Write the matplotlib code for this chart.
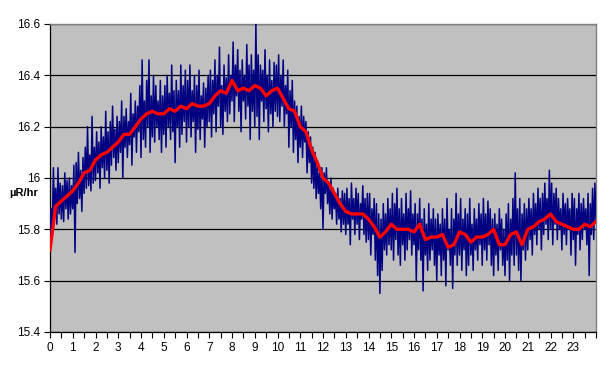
import numpy as np
import matplotlib
matplotlib.use('Agg')
import matplotlib.pyplot as plt

plt.rcParams['font.family'] = ['Liberation Sans', 'DejaVu Sans']

# blue readings, one every 0.05 h (20 per hour), last value at 24 h
raw = [
    # hour 0
    15.74, 15.88, 15.80, 16.04, 15.85, 15.96, 15.82, 16.04, 15.86, 15.98, 15.84, 15.97, 15.83, 16.02, 15.88, 15.99, 15.84, 16.00, 15.86, 15.97,
    # hour 1
    15.88, 16.05, 15.71, 16.06, 15.90, 16.10, 15.92, 16.03, 15.87, 16.08, 15.94, 16.12, 15.96, 16.20, 15.97, 16.09, 15.95, 16.24, 15.98, 16.12,
    # hour 2
    15.99, 16.18, 16.02, 16.14, 15.96, 16.20, 16.04, 16.16, 16.00, 16.26, 16.03, 16.18, 15.98, 16.22, 16.05, 16.28, 16.08, 16.19, 16.03, 16.24,
    # hour 3
    16.06, 16.22, 16.10, 16.30, 16.00, 16.24, 16.12, 16.27, 16.08, 16.22, 16.13, 16.33, 16.05, 16.25, 16.16, 16.30, 16.10, 16.28, 16.18, 16.36,
    # hour 4
    16.08, 16.46, 16.15, 16.30, 16.12, 16.38, 16.20, 16.46, 16.10, 16.32, 16.16, 16.40, 16.14, 16.36, 16.20, 16.30, 16.15, 16.38, 16.10, 16.32,
    # hour 5
    16.17, 16.36, 16.12, 16.40, 16.20, 16.33, 16.15, 16.44, 16.18, 16.34, 16.06, 16.38, 16.20, 16.34, 16.12, 16.44, 16.17, 16.36, 16.22, 16.42,
    # hour 6
    16.14, 16.38, 16.20, 16.44, 16.16, 16.34, 16.22, 16.40, 16.10, 16.36, 16.19, 16.42, 16.15, 16.32, 16.23, 16.37, 16.12, 16.35, 16.20, 16.40,
    # hour 7
    16.22, 16.42, 16.16, 16.38, 16.25, 16.46, 16.18, 16.40, 16.28, 16.51, 16.20, 16.36, 16.17, 16.44, 16.26, 16.39, 16.22, 16.48, 16.25, 16.40,
    # hour 8
    16.30, 16.53, 16.22, 16.44, 16.32, 16.50, 16.26, 16.42, 16.18, 16.46, 16.30, 16.40, 16.23, 16.52, 16.28, 16.44, 16.15, 16.48, 16.26, 16.42,
    # hour 9
    16.20, 16.60, 16.24, 16.48, 16.15, 16.44, 16.30, 16.42, 16.22, 16.50, 16.27, 16.40, 16.18, 16.46, 16.25, 16.38, 16.20, 16.45, 16.26, 16.44,
    # hour 10
    16.24, 16.48, 16.22, 16.40, 16.28, 16.46, 16.20, 16.36, 16.25, 16.42, 16.12, 16.34, 16.20, 16.38, 16.10, 16.30, 16.15, 16.28, 16.06, 16.24,
    # hour 11
    16.12, 16.28, 16.08, 16.24, 16.14, 16.22, 16.02, 16.18, 16.06, 16.16, 15.98, 16.12, 15.96, 16.10, 15.92, 16.06, 15.94, 16.02, 15.88, 16.04,
    # hour 12
    15.80, 16.02, 15.94, 16.04, 15.90, 15.98, 15.86, 16.00, 15.84, 15.96, 15.88, 15.94, 15.82, 15.96, 15.84, 15.92, 15.79, 15.95, 15.82, 15.94,
    # hour 13
    15.78, 15.96, 15.82, 15.92, 15.74, 15.98, 15.84, 15.92, 15.78, 15.96, 15.82, 15.94, 15.76, 15.90, 15.84, 15.97, 15.78, 15.92, 15.75, 15.94,
    # hour 14
    15.76, 15.94, 15.70, 15.88, 15.78, 15.92, 15.68, 15.90, 15.62, 15.86, 15.55, 15.84, 15.64, 15.90, 15.72, 15.86, 15.70, 15.92, 15.74, 15.88,
    # hour 15
    15.72, 15.94, 15.68, 15.90, 15.76, 15.96, 15.70, 15.88, 15.66, 15.92, 15.74, 15.86, 15.68, 15.94, 15.72, 15.88, 15.76, 15.95, 15.70, 15.86,
    # hour 16
    15.74, 15.90, 15.60, 15.86, 15.72, 15.92, 15.68, 15.84, 15.56, 15.88, 15.70, 15.82, 15.64, 15.90, 15.68, 15.84, 15.72, 15.88, 15.66, 15.84,
    # hour 17
    15.60, 15.86, 15.70, 15.82, 15.62, 15.88, 15.68, 15.84, 15.58, 15.92, 15.72, 15.80, 15.66, 15.88, 15.57, 15.84, 15.70, 15.94, 15.66, 15.86,
    # hour 18
    15.70, 15.92, 15.64, 15.84, 15.72, 15.88, 15.62, 15.86, 15.66, 15.92, 15.70, 15.82, 15.64, 15.88, 15.72, 15.84, 15.68, 15.90, 15.74, 15.86,
    # hour 19
    15.66, 15.92, 15.72, 15.86, 15.68, 15.91, 15.74, 15.88, 15.66, 15.84, 15.62, 15.86, 15.70, 15.82, 15.64, 15.88, 15.72, 15.84, 15.66, 15.80,
    # hour 20
    15.62, 15.86, 15.68, 15.90, 15.60, 15.84, 15.70, 15.92, 15.66, 16.02, 15.70, 15.88, 15.64, 15.92, 15.60, 15.86, 15.72, 15.90, 15.68, 15.88,
    # hour 21
    15.72, 15.92, 15.76, 15.88, 15.70, 15.94, 15.78, 15.90, 15.74, 15.96, 15.80, 15.92, 15.72, 15.94, 15.78, 15.98, 15.82, 15.92, 15.76, 16.03,
    # hour 22
    15.80, 15.98, 15.74, 15.94, 15.82, 15.96, 15.76, 15.92, 15.80, 15.88, 15.72, 15.94, 15.78, 15.90, 15.74, 15.92, 15.80, 15.88, 15.70, 15.94,
    # hour 23
    15.76, 15.92, 15.66, 15.88, 15.78, 15.94, 15.72, 15.90, 15.76, 15.92, 15.80, 15.88, 15.74, 15.94, 15.62, 15.90, 15.78, 15.96, 15.76, 15.98,
    15.84,
]
raw_t = np.arange(len(raw)) * 0.05

# red smoothed line, one every 0.25 h
avg = [
    15.72, 15.89, 15.91, 15.93, 15.95, 15.98, 16.02, 16.03, 16.07, 16.09, 16.10, 16.12,
    16.14, 16.17, 16.17, 16.20, 16.23, 16.25, 16.26, 16.25, 16.25, 16.27, 16.26, 16.28,
    16.27, 16.29, 16.28, 16.28, 16.29, 16.32, 16.34, 16.33, 16.38, 16.34, 16.35, 16.34,
    16.36, 16.35, 16.32, 16.34, 16.35, 16.31, 16.27, 16.26, 16.20, 16.18, 16.11, 16.06,
    16.00, 15.98, 15.94, 15.90, 15.87, 15.86, 15.86, 15.86, 15.84, 15.81, 15.77, 15.79,
    15.82, 15.80, 15.80, 15.80, 15.79, 15.82, 15.76, 15.77, 15.77, 15.78, 15.73, 15.74,
    15.79, 15.78, 15.75, 15.77, 15.77, 15.78, 15.80, 15.74, 15.74, 15.78, 15.79, 15.74,
    15.80, 15.81, 15.83, 15.84, 15.86, 15.83, 15.82, 15.81, 15.80, 15.80, 15.82, 15.81,
    15.83,
]
avg_t = np.arange(len(avg)) * 0.25

hour_labels = [str(h) for h in range(24)]
y_ticks = [15.4, 15.6, 15.8, 16.0, 16.2, 16.4, 16.6]
y_labels = ['15.4', '15.6', '15.8', '16', '16.2', '16.4', '16.6']

fig = plt.figure(figsize=(6.09, 3.73), dpi=100)
ax = fig.add_axes([50/609, 41/373, 546/609, 308/373])
ax.set_facecolor('#C0C0C0')

ax.plot(raw_t, raw, color='#000080', lw=1.1, zorder=3)
ax.plot(avg_t, avg, color='#FF0000', lw=2.4, zorder=4)

ax.set_xlim(0, 24)
ax.set_ylim(15.4, 16.6)
ax.set_yticks(y_ticks)
ax.set_yticklabels(y_labels)
half_hours = np.arange(0, 24.01, 0.5)
ax.set_xticks(half_hours)
ax.set_xticklabels([hour_labels[int(v)] if v == int(v) and v < 24 else '' for v in half_hours])
ax.yaxis.grid(True, color='black', lw=0.9)
ax.set_axisbelow(True)
ax.tick_params(axis='both', direction='out', length=4, width=0.8, colors='black', labelsize=8.5, pad=3)

for side in ['top', 'right']:
    ax.spines[side].set_color('#808080')
    ax.spines[side].set_linewidth(1.0)
for side in ['left', 'bottom']:
    ax.spines[side].set_color('black')
    ax.spines[side].set_linewidth(0.9)

fig.text(9/609, 1 - 193/373, 'µR/hr', fontsize=8, fontweight='bold', va='center', ha='left')

fig.savefig('out.png', dpi=100)
